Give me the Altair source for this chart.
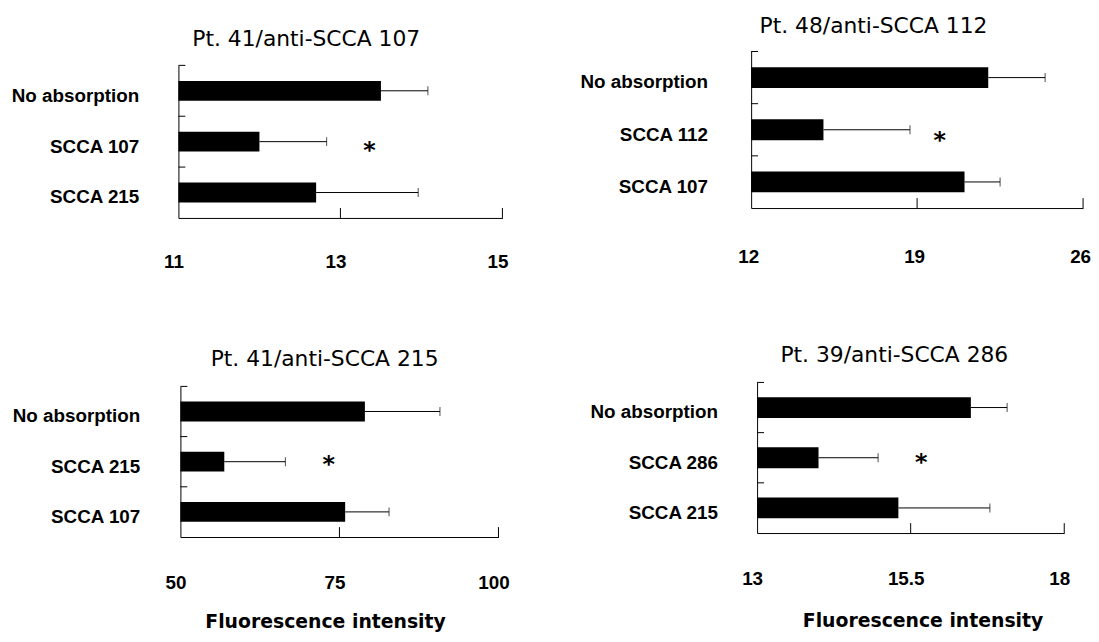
import altair as alt
import pandas as pd

# ---------------- data ----------------
x_title = "Fluorescence intensity"

p1_title = "Pt. 41/anti-SCCA 107"
p1_cats = ["No absorption", "SCCA 107", "SCCA 215"]
p1_means = [13.5, 12.0, 12.7]
p1_err = [0.58, 0.83, 1.26]
p1_ticks = [11, 13, 15]
p1_star = ("SCCA 107", 13.36)

p2_title = "Pt. 48/anti-SCCA 112"
p2_cats = ["No absorption", "SCCA 112", "SCCA 107"]
p2_means = [22.0, 15.05, 21.0]
p2_err = [2.4, 3.65, 1.5]
p2_ticks = [12, 19, 26]
p2_star = ("SCCA 112", 19.95)

p3_title = "Pt. 41/anti-SCCA 215"
p3_cats = ["No absorption", "SCCA 215", "SCCA 107"]
p3_means = [79.0, 56.9, 75.9]
p3_err = [11.8, 9.6, 6.9]
p3_ticks = [50, 75, 100]
p3_star = ("SCCA 215", 73.3)

p4_title = "Pt. 39/anti-SCCA 286"
p4_cats = ["No absorption", "SCCA 286", "SCCA 215"]
p4_means = [16.48, 14.0, 15.3]
p4_err = [0.59, 0.97, 1.49]
p4_ticks = [13, 15.5, 18]
p4_star = ("SCCA 286", 15.67)

LAB_FONT = "Liberation Sans"
TITLE_FONT = "DejaVu Sans"


def panel(title, cats, means, errs, ticks, star, g, xtitle=False):
    W, H, ox, oy = g["W"], g["H"], g["ox"], g["oy"]
    step = H / 3.0
    pi = 1 - g["bar"] / step
    df = pd.DataFrame({
        "cat": cats,
        "mean": means,
        "hi": [m + e for m, e in zip(means, errs)],
        "base": [ticks[0]] * len(cats),
    })
    one = pd.DataFrame({"a": [0]})
    xs = alt.Scale(domain=[ticks[0], ticks[-1]], nice=False, zero=False,
                   range=[ox, ox + W])
    ys = alt.Scale(domain=cats, paddingInner=pi, paddingOuter=pi / 2,
                   range=[oy, oy + H])

    xkw = dict(values=ticks, labelExpr="'' + datum.value", ticks=False,
               tickSize=0, grid=False,
               domainColor="black", domainWidth=1, labelFont=LAB_FONT,
               labelFontSize=19, labelFontWeight="bold", labelColor="black",
               labelPadding=g["lpx"], labelBaseline="middle",
               labelOffset=g["lox"], labelFlush=False, labelOverlap=False)
    if xtitle:
        xkw.update(title=x_title, titleX=ox + g["xtx"], titleY=g["xty"],
                   titleAlign="center", titleBaseline="middle",
                   titleFont=TITLE_FONT, titleFontSize=19,
                   titleFontWeight="bold", titleColor="black")
    else:
        xkw["title"] = None
    xaxis = alt.Axis(**xkw)
    yaxis = alt.Axis(ticks=False, tickSize=0, grid=False, domainColor="black",
                     domainWidth=1, labelFont=LAB_FONT, labelFontSize=19,
                     labelFontWeight="bold", labelColor="black",
                     labelPadding=g["lpy"], labelOffset=5, labelLimit=400,
                     offset=-ox, title=None)

    def X(f):
        return alt.X(f, type="quantitative", scale=xs, axis=xaxis)

    Y = alt.Y("cat:N", scale=ys, axis=yaxis)

    base = alt.Chart(df)
    bars = base.mark_bar(color="black").encode(x=X("base"), x2=alt.X2("mean"), y=Y)
    err = base.mark_rule(color="black", strokeWidth=1).encode(
        x=X("mean"), x2=alt.X2("hi"), y=Y)
    cap = base.mark_tick(color="black", thickness=1, size=9).encode(x=X("hi"), y=Y)

    sdf = pd.DataFrame({"cat": [star[0]], "sx": [star[1]], "s": ["*"]})
    stars = alt.Chart(sdf).mark_text(
        font=TITLE_FONT, fontSize=24, fontWeight="bold", align="center",
        baseline="alphabetic", dy=g["star"] + 13, color="black"
    ).encode(x=X("sx"), y=Y, text="s:N")

    tdf = pd.DataFrame({"t": ticks[1:]})
    xt = alt.Chart(tdf).mark_rule(color="black", strokeWidth=1).encode(
        x=X("t"), y=alt.value(oy + H), y2=alt.value(oy + H - 10))

    yt = base.mark_rule(color="black", strokeWidth=1,
                        yOffset=-(step - g["bar"]) / 2).encode(
        x=alt.value(ox), x2=alt.value(ox + 7),
        y=alt.Y("cat:N", scale=ys, axis=yaxis, bandPosition=0))

    ttl = alt.Chart(one).mark_text(
        text=title, font=TITLE_FONT, fontSize=22, align="center",
        baseline="middle", color="black"
    ).encode(x=alt.value(ox + g["tdx"]), y=alt.value(oy + g["tdy"]))

    layers = [bars, err, cap, stars, xt, yt, ttl]
    # invisible layout anchors (fix the grid extents)
    layers.append(alt.Chart(one).mark_text(
        text=".", fontSize=1, opacity=0, align="left", baseline="top"
    ).encode(x=alt.value(-g["L"]), y=alt.value(-g["T"])))
    if "R" in g:
        layers.append(alt.Chart(one).mark_text(
            text=".", fontSize=1, opacity=0, align="right", baseline="bottom"
        ).encode(x=alt.value(g["R"]), y=alt.value(g["B"])))
    return alt.layer(*layers).properties(width=ox + W, height=oy + H)


g1 = dict(W=327, H=154, ox=0, oy=14, bar=20, L=172, T=41, R=398, B=241,
          lpy=40, lpx=44, lox=-5, tdx=129, tdy=-27, star=3)
g2 = dict(W=335, H=158, ox=0, oy=0, bar=21, L=180, T=41,
          lpy=44, lpx=49, lox=-3, tdx=123.5, tdy=-26, star=5)
g3 = dict(W=321, H=152, ox=2, oy=4, bar=20, L=172, T=93,
          lpy=41, lpx=46, lox=-5, tdx=145.5, tdy=-28, star=-3, xtx=146, xty=85)
g4 = dict(W=310, H=152, ox=6, oy=0, bar=21, L=180, T=93,
          lpy=40, lpx=46, lox=-5, tdx=138.5, tdy=-28, star=-1, xtx=167, xty=88)

p1 = panel(p1_title, p1_cats, p1_means, p1_err, p1_ticks, p1_star, g1)
p2 = panel(p2_title, p2_cats, p2_means, p2_err, p2_ticks, p2_star, g2)
p3 = panel(p3_title, p3_cats, p3_means, p3_err, p3_ticks, p3_star, g3, xtitle=True)
p4 = panel(p4_title, p4_cats, p4_means, p4_err, p4_ticks, p4_star, g4, xtitle=True)

chart = alt.concat(p1, p2, p3, p4, columns=2, spacing=0, align="each").properties(
    padding=0
).configure_view(strokeWidth=0)

chart.save("out.html", embed_options={"renderer": "svg", "actions": False})
